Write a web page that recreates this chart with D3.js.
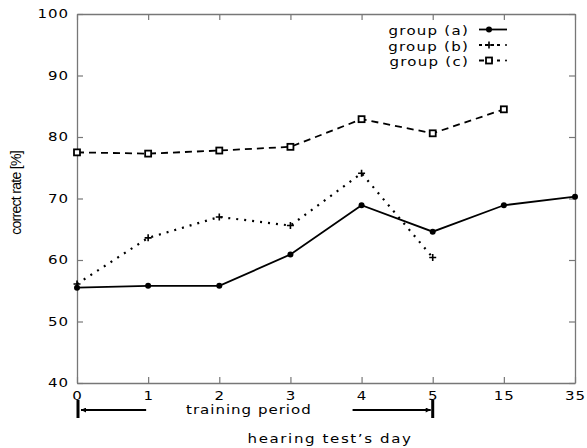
<!DOCTYPE html>
<html>
<head>
<meta charset="utf-8">
<script src="https://cdn.jsdelivr.net/npm/d3@7"></script>
<style>
  body { margin: 0; background: #fff; }
  text { font-family: "DejaVu Sans", sans-serif; fill: #000; }
</style>
</head>
<body>
<div id="wrapper"></div>
<script>
// days of the hearing test (ordinal axis)
const days = ["0", "1", "2", "3", "4", "5", "15", "35"]
const yTicks = [40, 50, 60, 70, 80, 90, 100]
// correct rate [%] per group, null = not measured
const groupA = [55.5, 55.8, 55.8, 60.9, 68.9, 64.6, 68.9, 70.3]
const groupB = [56.1, 63.6, 67.0, 65.6, 74.1, 60.4, null, null]
const groupC = [77.5, 77.3, 77.8, 78.4, 82.9, 80.6, 84.5, null]
const seriesNames = ["group (a)", "group (b)", "group (c)"]

let dimensions = {
    width: 587,
    height: 448,
    margin: { top: 14, right: 12, bottom: 65, left: 77 },
}
dimensions.boundedWidth = dimensions.width - dimensions.margin.left - dimensions.margin.right
dimensions.boundedHeight = dimensions.height - dimensions.margin.top - dimensions.margin.bottom

const wrapper = d3.select("#wrapper")
    .append("svg")
    .attr("width", dimensions.width)
    .attr("height", dimensions.height)

const bounds = wrapper.append("g")
    .attr("transform", `translate(${dimensions.margin.left},${dimensions.margin.top})`)

const xScale = d3.scalePoint()
    .domain(days)
    .range([0, dimensions.boundedWidth])

const yScale = d3.scaleLinear()
    .domain([40, 100])
    .range([dimensions.boundedHeight, 0])

// the original uses a wide font: stretch DejaVu horizontally
const stretch = 1.25
function wideText(sel, x, y, size, spacing, anchor) {
    return sel.append("text")
        .attr("transform", `translate(${x},${y}) scale(${stretch},1)`)
        .attr("text-anchor", anchor)
        .style("font-size", size + "px")
        .style("letter-spacing", spacing + "px")
}

// axes with inward ticks on all four sides
const axisColor = "#777"
function styleAxis(g) {
    g.select(".domain").attr("stroke", axisColor).attr("stroke-width", 1.3)
    g.selectAll(".tick line").attr("stroke", axisColor).attr("stroke-width", 1.2)
    g.selectAll(".tick text")
        .style("font-family", "DejaVu Sans")
        .style("font-size", "12px")
        .style("letter-spacing", "0.8px")
        .attr("transform", `scale(${stretch},1)`)
        .attr("fill", "#000")
}

bounds.append("g")
    .call(d3.axisLeft(yScale).tickValues(yTicks).tickSize(-6).tickSizeOuter(0))
    .call(styleAxis)
    .call(g => g.selectAll(".tick text").attr("x", -8 / stretch))

bounds.append("g")
    .attr("transform", `translate(${dimensions.boundedWidth},0)`)
    .call(d3.axisRight(yScale).tickValues(yTicks).tickSize(-6).tickFormat("").tickSizeOuter(0))
    .call(styleAxis)

bounds.append("g")
    .attr("transform", `translate(0,${dimensions.boundedHeight})`)
    .call(d3.axisBottom(xScale).tickSize(-6).tickSizeOuter(0))
    .call(styleAxis)
    .call(g => g.selectAll(".tick text").attr("dy", null).attr("y", 17))

bounds.append("g")
    .call(d3.axisTop(xScale).tickSize(-6).tickFormat("").tickSizeOuter(0))
    .call(styleAxis)

// series
const series = [
    { name: seriesNames[0], values: groupA, dash: null, marker: "circle" },
    { name: seriesNames[1], values: groupB, dash: "2,6", marker: "plus" },
    { name: seriesNames[2], values: groupC, dash: "7,5", marker: "square" },
]

const lineGenerator = d3.line()
    .defined(d => d.v != null)
    .x(d => xScale(d.day))
    .y(d => yScale(d.v))

function drawMarker(g, type, x, y) {
    if (type === "circle") {
        g.append("circle").attr("cx", x).attr("cy", y).attr("r", 3).attr("fill", "#000")
    } else if (type === "plus") {
        g.append("path")
            .attr("d", `M${x - 3.5},${y}H${x + 3.5}M${x},${y - 3.5}V${y + 3.5}`)
            .attr("stroke", "#000").attr("stroke-width", 1.6)
    } else {
        g.append("rect")
            .attr("x", x - 3).attr("y", y - 3).attr("width", 6).attr("height", 6)
            .attr("fill", "#fff").attr("stroke", "#000").attr("stroke-width", 1.8)
    }
}

series.forEach(s => {
    const pts = days.map((day, i) => ({ day, v: s.values[i] }))
    bounds.append("path")
        .datum(pts)
        .attr("d", lineGenerator)
        .attr("fill", "none")
        .attr("stroke", "#000")
        .attr("stroke-width", s.dash === "2,6" ? 2.2 : 1.8)
        .attr("stroke-dasharray", s.dash)
    const mg = bounds.append("g")
    pts.filter(d => d.v != null).forEach(d => drawMarker(mg, s.marker, xScale(d.day), yScale(d.v)))
})

// legend
const legend = wrapper.append("g")
series.forEach((s, i) => {
    const y = 35 + i * 15.5
    wideText(legend, 469, y, 12, 1, "end").text(s.name)
    const ly = y - 5.5
    if (i === 0) {
        legend.append("line").attr("x1", 479).attr("x2", 507).attr("y1", ly).attr("y2", ly)
            .attr("stroke", "#000").attr("stroke-width", 1.8)
    } else {
        legend.append("line").attr("x1", 479).attr("x2", 500).attr("y1", ly).attr("y2", ly)
            .attr("stroke", "#000").attr("stroke-width", 1.8)
            .attr("stroke-dasharray", i === 1 ? "3,3" : "5,4")
        legend.append("circle").attr("cx", 506).attr("cy", ly).attr("r", 1).attr("fill", "#000")
    }
    drawMarker(legend, s.marker, 489, ly)
})

// axis titles
wrapper.append("text")
    .attr("transform", `translate(21,193) rotate(-90)`)
    .attr("text-anchor", "middle")
    .style("font-family", "Liberation Sans, Arial, sans-serif")
    .style("font-size", "14px")
    .style("letter-spacing", "-0.7px")
    .text("correct rate [%]")

wideText(wrapper, 330, 443, 12, 1.3, "middle").text("hearing test\u2019s day")

// training period marker
const tp = wrapper.append("g")
    .attr("transform", `translate(${dimensions.margin.left},0)`)
const tpY = 410
wrapper.append("defs").append("marker")
    .attr("id", "arrow")
    .attr("viewBox", "0 0 10 10")
    .attr("refX", 10).attr("refY", 5)
    .attr("markerWidth", 7).attr("markerHeight", 5)
    .attr("markerUnits", "userSpaceOnUse")
    .attr("orient", "auto")
    .append("path").attr("d", "M0,0L10,5L0,10z").attr("fill", "#000")

tp.append("line")
    .attr("x1", xScale("0") + 1).attr("x2", xScale("0") + 1)
    .attr("y1", 400).attr("y2", 418)
    .attr("stroke", "#000").attr("stroke-width", 3)
tp.append("line")
    .attr("x1", xScale("1") - 2).attr("x2", xScale("0") + 4)
    .attr("y1", tpY).attr("y2", tpY)
    .attr("stroke", "#000").attr("stroke-width", 2)
    .attr("marker-end", "url(#arrow)")
tp.append("line")
    .attr("x1", xScale("5")).attr("x2", xScale("5"))
    .attr("y1", 400).attr("y2", 418)
    .attr("stroke", "#000").attr("stroke-width", 3)
tp.append("line")
    .attr("x1", xScale("4") - 9).attr("x2", xScale("5") - 2)
    .attr("y1", tpY).attr("y2", tpY)
    .attr("stroke", "#000").attr("stroke-width", 2)
    .attr("marker-end", "url(#arrow)")
wideText(tp, (xScale("1") + xScale("4")) / 2 - 6, 414, 12, 0.8, "middle").text("training period")
</script>
</body>
</html>
